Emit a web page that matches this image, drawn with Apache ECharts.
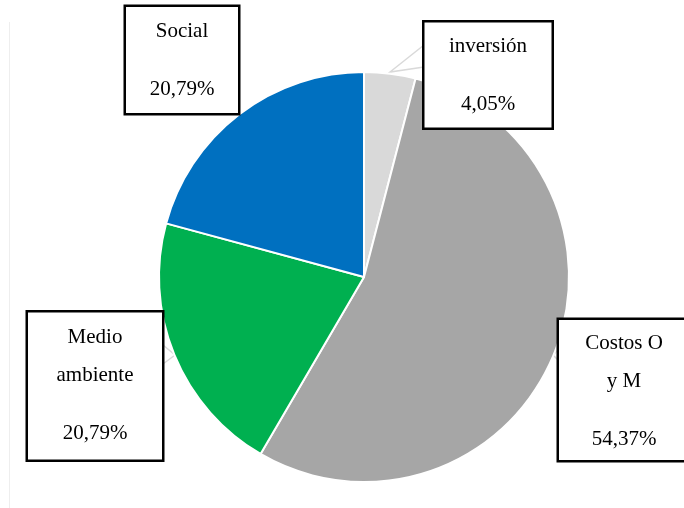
<!DOCTYPE html>
<html>
<head>
<meta charset="utf-8">
<script src="https://cdn.jsdelivr.net/npm/echarts@6/dist/echarts.min.js"></script>
<style>
  html, body { margin: 0; padding: 0; background: #fff; }
  #main { width: 684px; height: 508px; }
</style>
</head>
<body>
<div id="main"></div>
<script>
// datos del gráfico
var categories = ['inversión', 'Costos O\ny M', 'Medio\nambiente', 'Social'];
var values = [4.05, 54.37, 20.79, 20.79];
var colors = ['#d9d9d9', '#a6a6a6', '#00b050', '#0070c0'];

// posicion de cada caja de texto (centro) y su ancho
var boxPos = [[488, 75], [624, 390], [95, 386], [182, 60]];
var boxWidth = [127, 130, 134, 112];
var boxPad = [[5, 0, 4, 0], [4, 0, 2, 0], [6, 0, 7, 0], [5, 0, 5, 0]];
// flechitas de las llamadas (como en excel)
var pointers = [
    [[424, 45], [390, 72], [424, 67]],
    [[558, 350], [553, 355], [558, 360]],
    [[163, 345], [175, 355], [163, 364]],
    null
];

var chart = echarts.init(document.getElementById('main'));

var data = [];
for (var i = 0; i < values.length; i++) {
    data.push({
        name: categories[i],
        value: values[i],
        itemStyle: { color: colors[i] },
        label: { width: boxWidth[i], padding: boxPad[i] },
        labelLine: { show: pointers[i] !== null }
    });
}

var option = {
    backgroundColor: '#fff',
    animation: false,
    graphic: [{
        type: 'line',
        shape: { x1: 9.5, y1: 22, x2: 9.5, y2: 508 },
        style: { stroke: '#eeeeee', lineWidth: 1 }
    }],
    series: [{
        type: 'pie',
        center: [364, 277],
        radius: 205,
        startAngle: 90,
        clockwise: true,
        data: data,
        itemStyle: { borderColor: '#fff', borderWidth: 2 },
        label: {
            show: true,
            position: 'outside',
            backgroundColor: '#fff',
            borderColor: '#000',
            borderWidth: 2.5,
            align: 'center',
            verticalAlign: 'middle',
            fontFamily: 'Liberation Serif',
            formatter: function (p) {
                var lines = p.name.split('\n').map(function (s) { return '{n|' + s + '}'; });
                var pct = p.value.toFixed(2).replace('.', ',') + '%';
                return lines.join('\n') + '\n{g| }\n{p|' + pct + '}';
            },
            rich: {
                n: { fontFamily: 'Liberation Serif', fontSize: 21, color: '#000', lineHeight: 38, align: 'center' },
                g: { fontSize: 10, lineHeight: 20 },
                p: { fontFamily: 'Liberation Serif', fontSize: 21, color: '#000', lineHeight: 38, align: 'center' }
            }
        },
        labelLine: {
            show: true,
            lineStyle: { color: '#d9d9d9', width: 1.5 }
        },
        labelLayout: function (params) {
            var i = params.dataIndex;
            var res = { x: boxPos[i][0], y: boxPos[i][1], align: 'center', verticalAlign: 'middle' };
            if (pointers[i]) res.labelLinePoints = pointers[i];
            return res;
        },
        emphasis: { disabled: true }
    }]
};

chart.setOption(option);
</script>
</body>
</html>
